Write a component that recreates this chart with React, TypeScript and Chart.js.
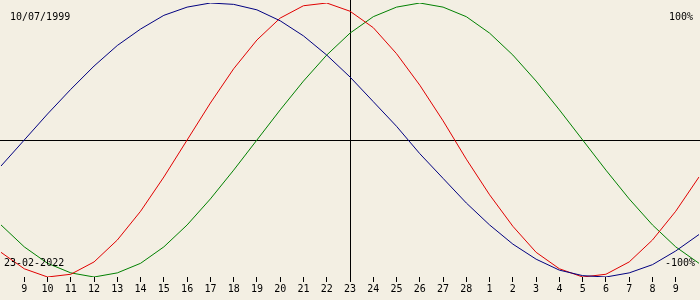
import React, { useEffect, useRef } from 'react';
import { Chart, registerables } from 'chart.js';

Chart.register(...registerables);

// Days shown: 8 Feb 2022 .. 10 Mar 2022 (edges have no tick)
const dayLabels = [
  '8', '9', '10', '11', '12', '13', '14', '15', '16', '17', '18', '19', '20', '21', '22',
  '23', '24', '25', '26', '27', '28', '1', '2', '3', '4', '5', '6', '7', '8', '9', '10',
];

// Physical (red), percent
const physical = [
  -82, -94, -100, -98, -89, -73, -52, -27, 0, 27, 52, 73, 89, 98, 100, 94,
  82, 63, 40, 14, -14, -40, -63, -82, -94, -100, -98, -89, -73, -52, -27,
];

// Emotional (green), percent
const emotional = [
  -62, -78, -90, -97, -100, -97, -90, -78, -62, -43, -22, 0, 22, 43, 62, 78,
  90, 97, 100, 97, 90, 78, 62, 43, 22, 0, -22, -43, -62, -78, -90,
];

// Intellectual (blue), percent
const intellectual = [
  -19, 0, 19, 37, 54, 69, 81, 91, 97, 100, 99, 95, 87, 76, 62, 46,
  28, 10, -10, -28, -46, -62, -76, -87, -95, -99, -100, -97, -91, -81, -69,
];

const birthDate = '10/07/1999';
const currentDate = '23-02-2022';
const topLabel = '100%';
const bottomLabel = '-100%';
const centerIndex = 15;

const BG = '#f3efe3';
const FONT = '10px "DejaVu Sans Mono"';

const overlayPlugin = {
  id: 'overlay',
  beforeDraw(chart: any) {
    const { ctx, width, height } = chart;
    ctx.save();
    ctx.fillStyle = BG;
    ctx.fillRect(0, 0, width, height);
    ctx.restore();
  },
  beforeDatasetsDraw(chart: any) {
    const { ctx, chartArea, scales } = chart;
    const x = scales.x;
    const y = scales.y;
    ctx.save();
    ctx.strokeStyle = '#000';
    ctx.lineWidth = 1;
    const y0 = Math.round(y.getPixelForValue(0)) + 0.5;
    ctx.beginPath();
    ctx.moveTo(0, y0);
    ctx.lineTo(chart.width, y0);
    ctx.stroke();
    const xc = Math.round(x.getPixelForValue(centerIndex)) + 0.5;
    ctx.beginPath();
    ctx.moveTo(xc, 0);
    ctx.lineTo(xc, chartArea.bottom + 5);
    ctx.stroke();
    ctx.restore();
  },
  afterDatasetsDraw(chart: any) {
    const { ctx } = chart;
    ctx.save();
    ctx.fillStyle = '#000';
    ctx.font = FONT;
    ctx.textBaseline = 'alphabetic';
    ctx.textAlign = 'left';
    ctx.fillText(birthDate, 10, 20);
    ctx.fillText(currentDate, 4, 266);
    ctx.textAlign = 'right';
    ctx.fillText(topLabel, 693, 20);
    ctx.fillText(bottomLabel, 695, 266);
    ctx.restore();
  },
};

export default function App() {
  const ref = useRef<HTMLCanvasElement | null>(null);

  useEffect(() => {
    document.body.style.margin = '0';
    document.body.style.background = BG;
    const canvas = ref.current;
    if (!canvas) return;
    const last = dayLabels.length - 1;
    const chart = new Chart(canvas, {
      type: 'line',
      data: {
        labels: dayLabels,
        datasets: [
          {
            label: 'Intellectual',
            data: intellectual,
            borderColor: '#000080',
            borderWidth: 1,
            pointRadius: 0,
            tension: 0,
            fill: false,
          },
          {
            label: 'Physical',
            data: physical,
            borderColor: '#e00000',
            borderWidth: 1,
            pointRadius: 0,
            tension: 0,
            fill: false,
          },
          {
            label: 'Emotional',
            data: emotional,
            borderColor: '#008000',
            borderWidth: 1,
            pointRadius: 0,
            tension: 0,
            fill: false,
          },
        ],
      },
      options: {
        responsive: false,
        animation: false,
        devicePixelRatio: 1,
        layout: { autoPadding: false, padding: { top: 3, bottom: 4, left: 0, right: 0 } },
        plugins: { legend: { display: false }, tooltip: { enabled: false } },
        scales: {
          x: {
            type: 'category',
            offset: false,
            border: { display: false },
            grid: {
              drawOnChartArea: false,
              drawTicks: true,
              tickLength: 5,
              tickColor: (c: any) => (c.index === 0 || c.index === last ? 'rgba(0,0,0,0)' : '#000'),
            },
            ticks: {
              autoSkip: false,
              maxRotation: 0,
              minRotation: 0,
              padding: 1,
              color: '#000',
              font: { family: 'DejaVu Sans Mono', size: 10 },
              callback: (_v: any, i: number) => (i === 0 || i === last ? '' : dayLabels[i]),
            },
          },
          y: { display: false, min: -100, max: 100 },
        },
      },
      plugins: [overlayPlugin],
    } as any);
    return () => chart.destroy();
  }, []);

  return (
    <div style={{ width: 700, height: 300 }}>
      <canvas ref={ref} width={700} height={300} style={{ display: 'block', width: 700, height: 300 }} />
    </div>
  );
}
